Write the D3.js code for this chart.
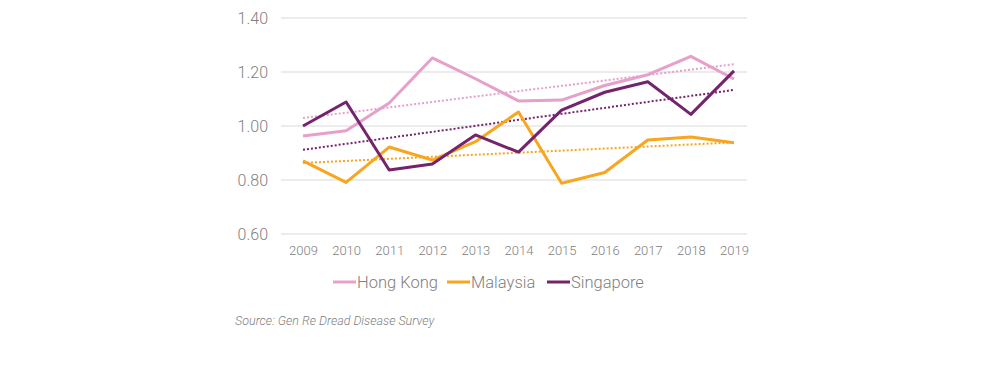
<!DOCTYPE html>
<html>
<head>
<meta charset="utf-8">
<script src="https://cdn.jsdelivr.net/npm/d3@7/dist/d3.min.js"></script>
<style>
body { margin: 0; background: #fff; }
svg text { font-family: Roboto, "Noto Sans", sans-serif; font-weight: 300; }
</style>
</head>
<body>
<svg width="1000" height="366"></svg>
<script>
var years = [2009, 2010, 2011, 2012, 2013, 2014, 2015, 2016, 2017, 2018, 2019];
var hongKong = [0.963, 0.982, 1.085, 1.252, 1.175, 1.093, 1.096, 1.150, 1.190, 1.258, 1.174];
var malaysia = [0.871, 0.791, 0.922, 0.874, 0.942, 1.052, 0.788, 0.828, 0.948, 0.959, 0.938];
var singapore = [1.000, 1.089, 0.837, 0.859, 0.967, 0.903, 1.059, 1.125, 1.164, 1.043, 1.204];
var yTicks = [0.6, 0.8, 1.0, 1.2, 1.4];

var series = [
  {name: "Hong Kong", values: hongKong, color: "#e6a0c9"},
  {name: "Malaysia", values: malaysia, color: "#f8a51f"},
  {name: "Singapore", values: singapore, color: "#74246d"}
];

var svg = d3.select("svg");

var x = d3.scalePoint().domain(years).range([303, 734]);
var y = d3.scaleLinear().domain([0.6, 1.4]).range([234, 18]);

// gridlines
svg.append("g").selectAll("line")
  .data(yTicks)
  .enter().append("line")
  .attr("x1", 281).attr("x2", 747)
  .attr("y1", function(d) { return y(d); })
  .attr("y2", function(d) { return y(d); })
  .attr("stroke", "#d9d9d9")
  .attr("stroke-width", 1);

var yAxis = svg.append("g")
  .attr("transform", "translate(268,0)")
  .call(d3.axisLeft(y).tickValues(yTicks).tickFormat(d3.format(".2f")).tickSize(0).tickPadding(0));
yAxis.select(".domain").remove();
yAxis.selectAll("text").attr("font-size", 16).attr("fill", "#808080");

var xAxis = svg.append("g")
  .attr("transform", "translate(0,246)")
  .call(d3.axisBottom(x).tickFormat(d3.format("d")).tickSize(0).tickPadding(0));
xAxis.select(".domain").remove();
xAxis.selectAll("text").attr("font-size", 13).attr("fill", "#808080");

function trend(vals) {
  var n = vals.length, mx = d3.mean(d3.range(n)), my = d3.mean(vals);
  var num = 0, den = 0;
  vals.forEach(function(v, i) { num += (i - mx) * (v - my); den += (i - mx) * (i - mx); });
  var b = num / den, a = my - b * mx;
  return vals.map(function(v, i) { return a + b * i; });
}

var line = d3.line()
  .x(function(d, i) { return x(years[i]); })
  .y(function(d) { return y(d); });

// trendlines
svg.append("g").selectAll("path")
  .data(series)
  .enter().append("path")
  .attr("d", function(d) { return line(trend(d.values)); })
  .attr("fill", "none")
  .attr("stroke", function(d) { return d.color; })
  .attr("stroke-width", 2)
  .attr("stroke-dasharray", "2,2");

svg.append("g").selectAll("path")
  .data(series)
  .enter().append("path")
  .attr("d", function(d) { return line(d.values); })
  .attr("fill", "none")
  .attr("stroke", function(d) { return d.color; })
  .attr("stroke-width", 3)
  .attr("stroke-linejoin", "round");

// legend
var legendX = [333, 447, 547];
var legend = svg.append("g").selectAll("g")
  .data(series)
  .enter().append("g")
  .attr("transform", function(d, i) { return "translate(" + legendX[i] + ",282)"; });
legend.append("line")
  .attr("x1", 0).attr("x2", 23)
  .attr("stroke", function(d) { return d.color; })
  .attr("stroke-width", 3);
legend.append("text")
  .attr("x", 24).attr("dy", "0.35em")
  .attr("font-size", 16.5)
  .attr("fill", "#808080")
  .text(function(d) { return d.name; });

svg.append("text")
  .attr("x", 235).attr("y", 325)
  .attr("font-size", 12.5)
  .attr("font-style", "italic")
  .attr("fill", "#808080")
  .text("Source: Gen Re Dread Disease Survey");
</script>
</body>
</html>
